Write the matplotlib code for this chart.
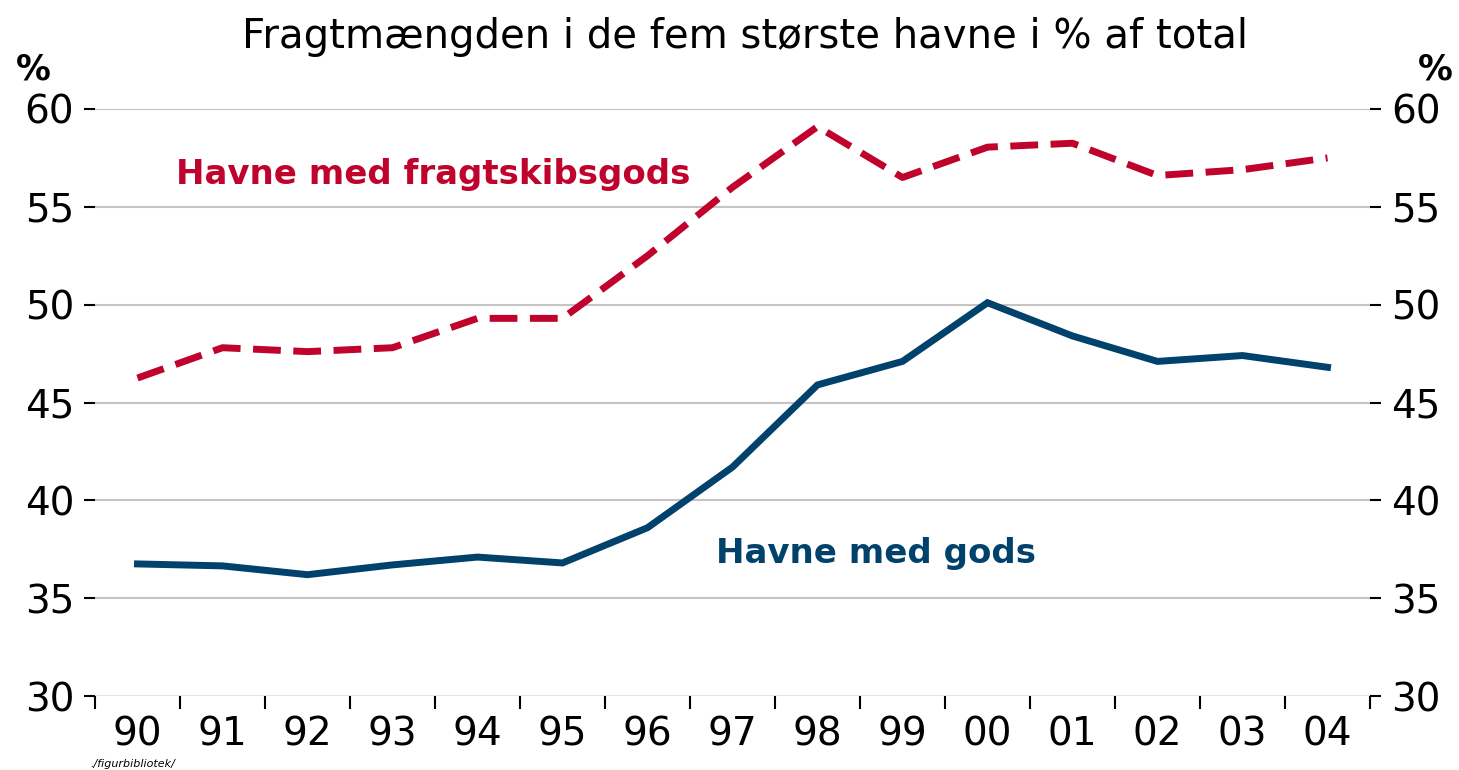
import matplotlib
matplotlib.use("Agg")
import matplotlib.pyplot as plt
import numpy as np

years = ["90", "91", "92", "93", "94", "95", "96", "97", "98", "99", "00", "01", "02", "03", "04"]
fragtskibsgods = [46.25, 47.8, 47.6, 47.8, 49.3, 49.3, 52.5, 56.0, 59.1, 56.5, 58.05, 58.25, 56.6, 56.9, 57.5]
gods = [36.75, 36.65, 36.2, 36.7, 37.1, 36.8, 38.6, 41.7, 45.9, 47.1, 50.1, 48.4, 47.1, 47.4, 46.8]
yticks = [30, 35, 40, 45, 50, 55, 60]

RED = "#C0032C"
BLUE = "#00426B"

plt.rcParams['font.family'] = ['DejaVu Sans']
fig = plt.figure(figsize=(14.59, 7.7), dpi=100)
ax = fig.add_axes([95/1459, 1-696/770, (1370-95)/1459, (696-109)/770])

x = np.arange(len(years))
ax.plot(x, fragtskibsgods, color=RED, lw=5, dashes=(4.0, 1.8), solid_capstyle='butt', zorder=3)
ax.plot(x, gods, color=BLUE, lw=5, solid_joinstyle='miter', zorder=3)

ax.set_xlim(-0.5, len(years) - 0.5)
ax.set_ylim(30, 60)
ax.set_yticks(yticks)
for v in yticks:
    ax.axhline(v, color="#c4c4c4" if v > 30 else "#e4e4e4", lw=1.5, zorder=1)

for s in ax.spines.values():
    s.set_visible(False)

ax.set_xticks(x)
ax.set_xticklabels(years, fontsize=28)
ax.tick_params(axis='x', length=0, pad=14)
ax.set_xticks(np.arange(-0.5, len(years)), minor=True)
ax.tick_params(axis='x', which='minor', length=9, width=1.5, color='black', direction='out')

ax.tick_params(axis='y', length=8, width=1.5, labelsize=28, left=True, right=True,
               labelleft=True, labelright=True, pad=7)

fig.text(745/1459, 1-37/770, "Fragtmængden i de fem største havne i % af total",
         ha='center', va='center', fontsize=29)
fig.text(33/1459, 1-70/770, "%", ha='center', va='center', fontsize=25, fontweight='bold')
fig.text(1435/1459, 1-70/770, "%", ha='center', va='center', fontsize=25, fontweight='bold')

ax.text(0.45, 56.65, "Havne med fragtskibsgods", color=RED, fontsize=24.5,
        fontweight='semibold', ha='left', va='center')
ax.text(6.8, 37.3, "Havne med gods", color=BLUE, fontsize=24.5,
        fontweight='semibold', ha='left', va='center')

fig.text(90/1459, 1-764/770, "./figurbibliotek/", fontsize=8, style='italic', ha='left', va='center')

fig.savefig("out.png", dpi=100)
